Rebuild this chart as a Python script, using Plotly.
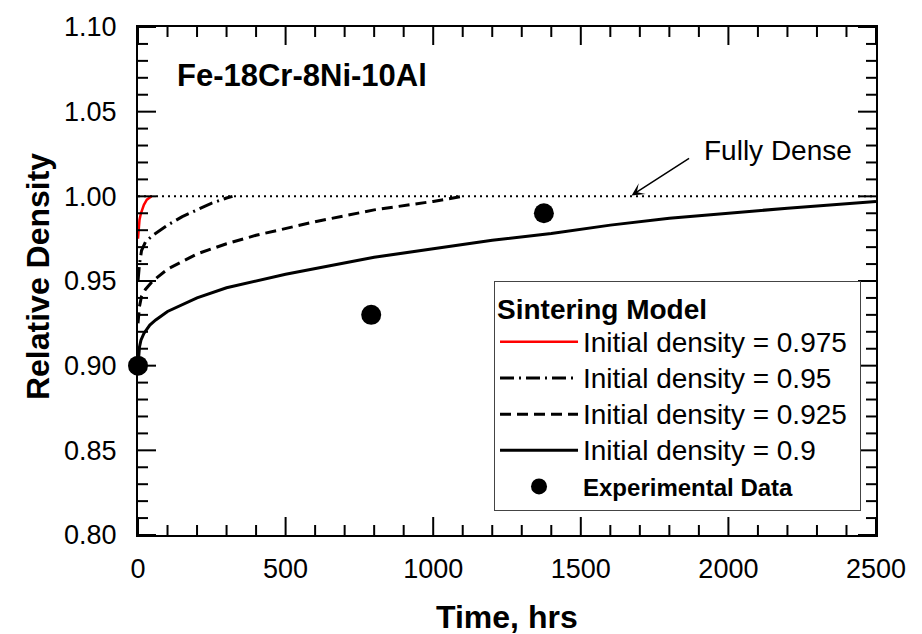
import numpy as np
import plotly.graph_objects as go

# ---- data ----
red_t = [0, 2, 5, 10, 15, 20, 30, 40, 46]
red_y = [0.975, 0.981, 0.986, 0.990, 0.993, 0.995, 0.998, 0.9995, 1.0]

dd_t = [0, 2, 5, 12, 25, 50, 100, 150, 200, 250, 300, 320]
dd_y = [0.950, 0.955, 0.960, 0.968, 0.973, 0.977, 0.983, 0.988, 0.992, 0.996, 0.999, 1.0]

da_t = [0, 2, 5, 12, 25, 50, 100, 200, 300, 400, 600, 800, 1000, 1100]
da_y = [0.925, 0.930, 0.935, 0.941, 0.945, 0.950, 0.957, 0.966, 0.972, 0.977, 0.985, 0.992, 0.997, 1.0]

so_t = [0, 2, 5, 10, 20, 40, 60, 100, 150, 200, 300, 400, 500, 650, 800,
        1000, 1200, 1400, 1600, 1800, 2000, 2200, 2500]
so_y = [0.900, 0.906, 0.911, 0.915, 0.919, 0.924, 0.927, 0.932, 0.936, 0.940,
        0.946, 0.950, 0.954, 0.959, 0.964, 0.969, 0.974, 0.978, 0.983, 0.987,
        0.990, 0.993, 0.997]

exp_t = [0, 790, 1375]
exp_y = [0.90, 0.93, 0.99]

dense_t = [0, 2500]
dense_y = [1.0, 1.0]

x_range = [0, 2500]
y_range = [0.8, 1.1]
x_major, x_minor = 500, 100
y_major, y_minor = 0.05, 0.01

FONT = "Liberation Sans, Arial, sans-serif"
MAJOR_LEN, MINOR_LEN = 18, 10


def lg(txt, size=28):
    return f"<span style='font-size:{size}px'>{txt}</span>"


fig = go.Figure()

fig.add_trace(go.Scatter(x=dense_t, y=dense_y, mode="lines", showlegend=False,
                         line=dict(color="black", width=2, dash="2px,4px")))
fig.add_trace(go.Scatter(x=red_t, y=red_y, mode="lines", name=lg("Initial density = 0.975\u00a0"),
                         line=dict(color="#ff0000", width=2.5)))
fig.add_trace(go.Scatter(x=dd_t, y=dd_y, mode="lines", name=lg("Initial density = 0.95"),
                         line=dict(color="black", width=3, dash="14px,5px,2px,5px")))
fig.add_trace(go.Scatter(x=da_t, y=da_y, mode="lines", name=lg("Initial density = 0.925"),
                         line=dict(color="black", width=3, dash="11px,6px")))
fig.add_trace(go.Scatter(x=so_t, y=so_y, mode="lines", name=lg("Initial density = 0.9"),
                         line=dict(color="black", width=3)))
fig.add_trace(go.Scatter(x=exp_t, y=exp_y, mode="markers",
                         name="<b>" + lg("Experimental Data", 24) + "</b>",
                         marker=dict(color="black", size=20), cliponaxis=False))

axis_common = dict(showline=True, linecolor="black", linewidth=2, mirror=True,
                   ticks="", showgrid=False, zeroline=False, tickmode="linear",
                   tickfont=dict(family=FONT, size=27, color="black"))

fig.update_xaxes(range=x_range, tick0=0, dtick=x_major, ticklabelstandoff=9, **axis_common)
fig.update_yaxes(range=y_range, tick0=0.8, dtick=y_major, tickformat=".2f",
                 ticklabelstandoff=14, **axis_common)

# inside tick marks on all four sides (major + minor), placed on the axes' scales
shapes = []
tick_line = dict(color="black", width=2)
for v in np.arange(x_range[0], x_range[1] + 1e-9, x_minor):
    L = MAJOR_LEN if abs(v / x_major - round(v / x_major)) < 1e-9 else MINOR_LEN
    for anchor, sgn in ((0, 1), (1, -1)):
        shapes.append(dict(type="line", xref="x", yref="paper", ysizemode="pixel",
                           yanchor=anchor, x0=v, x1=v, y0=0, y1=sgn * L, line=tick_line))
for k in range(int(round((y_range[1] - y_range[0]) / y_minor)) + 1):
    v = y_range[0] + k * y_minor
    L = MAJOR_LEN if k % int(round(y_major / y_minor)) == 0 else MINOR_LEN
    for anchor, sgn in ((0, 1), (1, -1)):
        shapes.append(dict(type="line", xref="paper", yref="y", xsizemode="pixel",
                           xanchor=anchor, y0=v, y1=v, x0=0, x1=sgn * L, line=tick_line))

fig.update_layout(
    width=922, height=634,
    margin=dict(l=138, r=46, t=19, b=99),
    paper_bgcolor="white", plot_bgcolor="white",
    font=dict(family=FONT, color="black"),
    shapes=shapes,
    legend=dict(x=0.9797, y=0.0465, xanchor="right", yanchor="bottom",
                bgcolor="white", bordercolor="#444", borderwidth=1,
                font=dict(family=FONT, size=25.5, color="black"),
                title=dict(text="<b>Sintering Model</b>", font=dict(family=FONT, size=28)),
                itemwidth=78, traceorder="normal"),
    annotations=[
        dict(text="<b>Fe-18Cr-8Ni-10Al</b>", xref="paper", yref="paper",
             x=(175 - 138) / 738, y=(535 - 68) / 516, xanchor="left", yanchor="middle",
             showarrow=False, font=dict(family=FONT, size=31, color="black")),
        dict(text="<b>Relative Density</b>", xref="paper", yref="paper",
             x=-(138 - 38) / 738, y=(535 - 273) / 516, xanchor="center", yanchor="middle",
             textangle=-90, showarrow=False,
             font=dict(family=FONT, size=32, color="black")),
        dict(text="<b>Time, hrs</b>", xref="paper", yref="paper",
             x=0.5, y=-(618 - 535) / 516, xanchor="center", yanchor="middle",
             showarrow=False, font=dict(family=FONT, size=32, color="black")),
        dict(text="Fully Dense", xref="x", yref="y", x=2168, y=1.0268,
             showarrow=False, font=dict(family=FONT, size=28, color="black")),
        dict(text="", xref="x", yref="y", x=1672, y=1.0005,
             ax=59, ay=-38, showarrow=True, arrowhead=3, arrowsize=1.4,
             arrowwidth=1.5, arrowcolor="black"),
    ],
)

fig.write_html("out.html")
